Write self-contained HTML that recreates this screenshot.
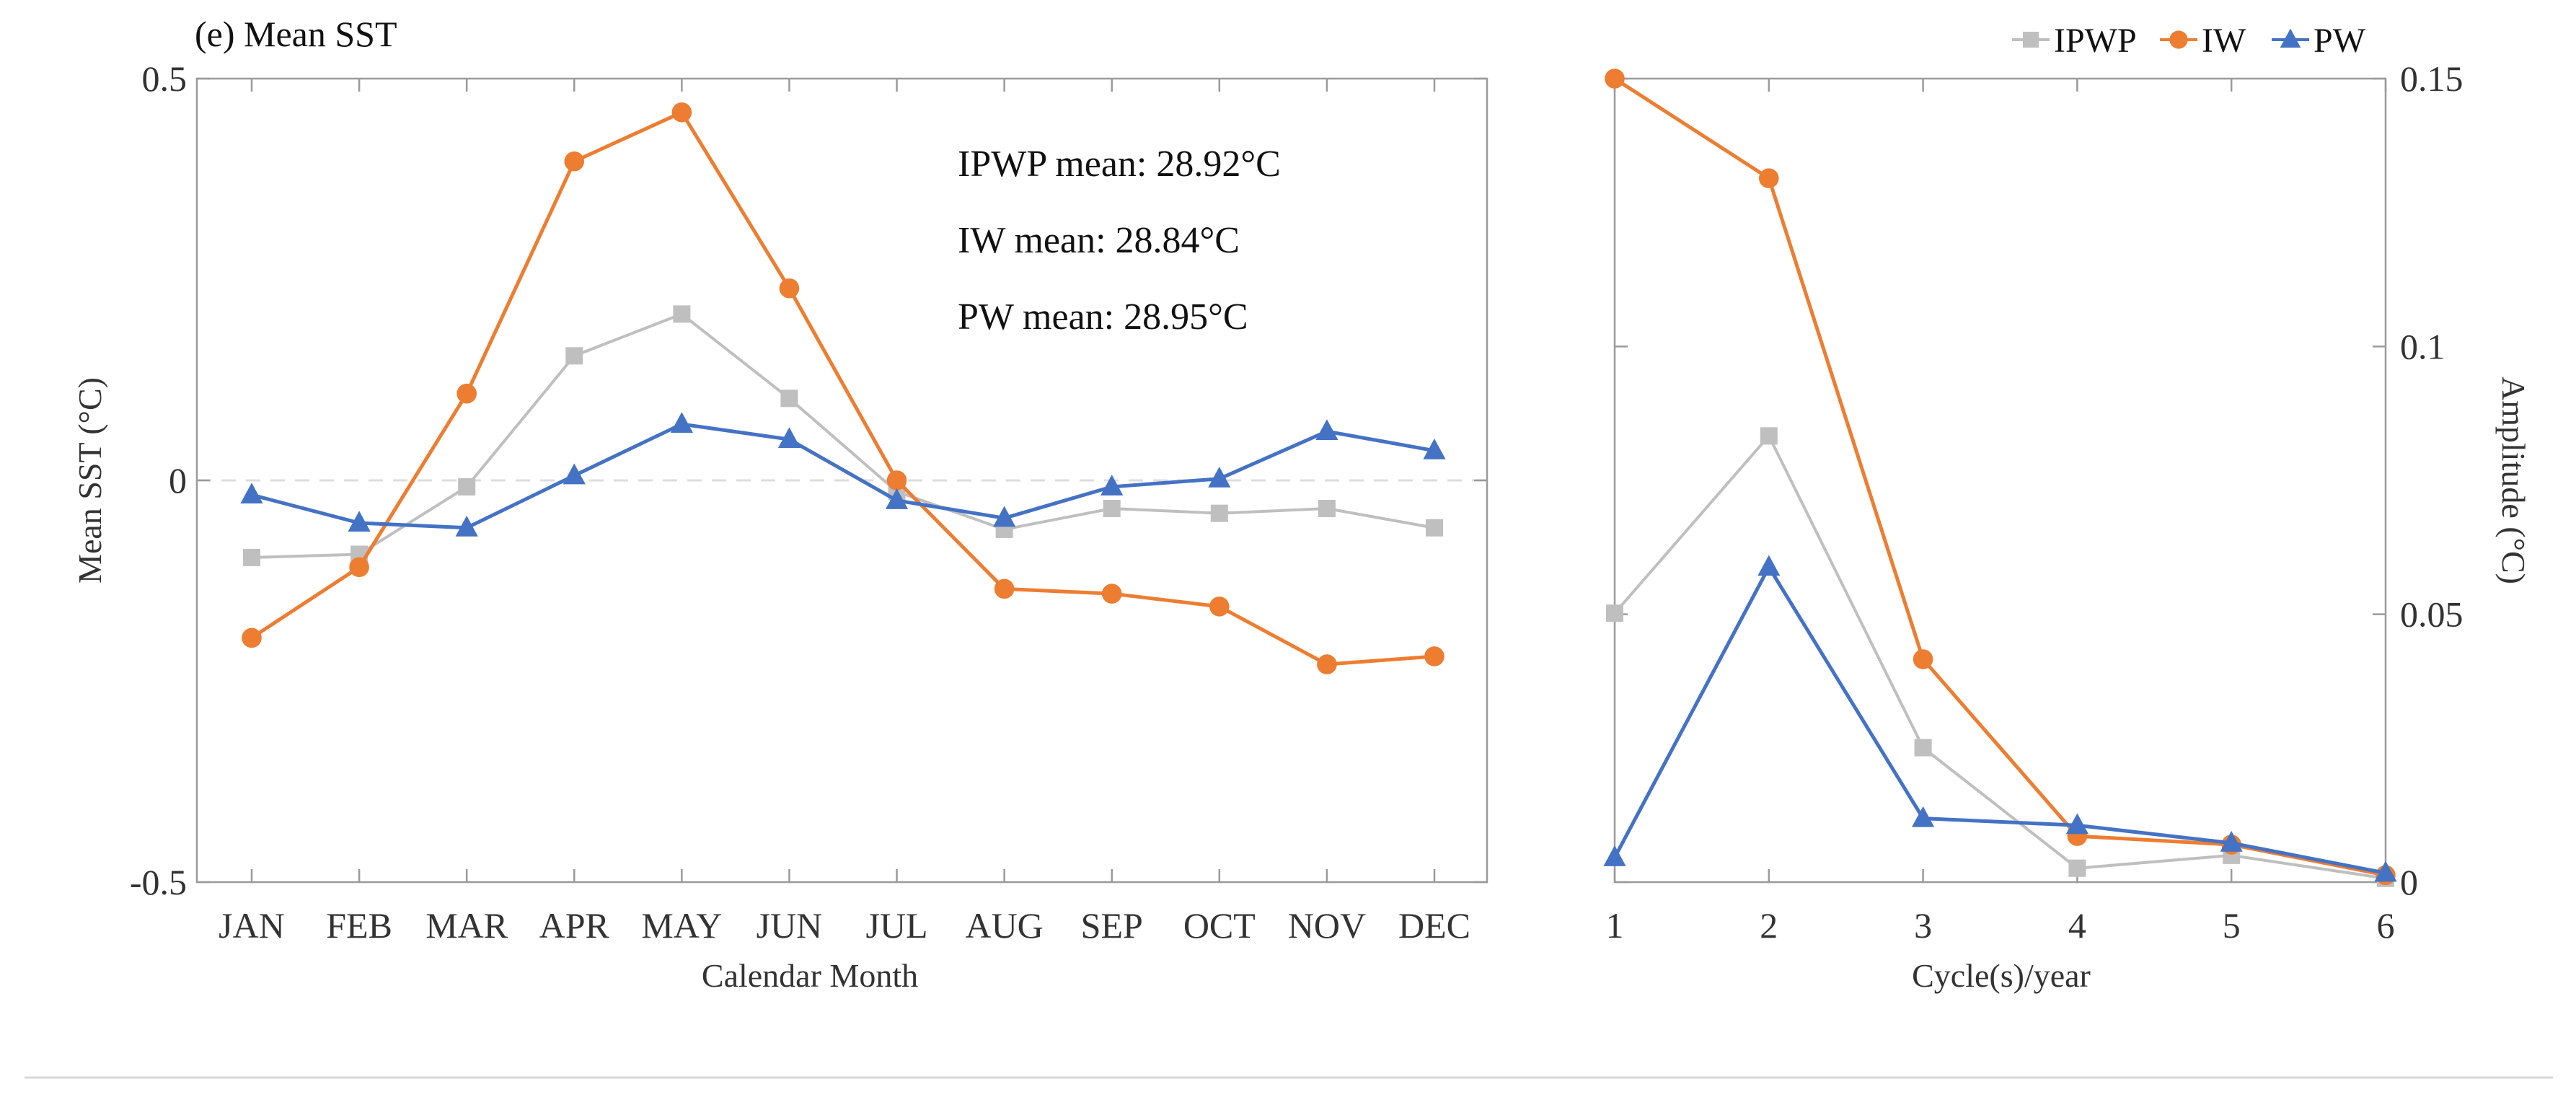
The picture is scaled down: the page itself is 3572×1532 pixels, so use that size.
<!DOCTYPE html>
<html><head><meta charset="utf-8"><style>
html,body{margin:0;padding:0;background:#fff}
svg{display:block;font-family:"Liberation Serif",serif}
</style></head><body>
<svg id="c" width="3572" height="1532" viewBox="0 0 3572 1532">
<text x="270" y="64" font-size="50" fill="#111">(e) Mean SST</text>
<line x1="34" y1="1494" x2="3540" y2="1494" stroke="#d8d8d8" stroke-width="3"/>
</svg>
<script>
const months=["JAN","FEB","MAR","APR","MAY","JUN","JUL","AUG","SEP","OCT","NOV","DEC"];
const ipwpMonthly=[-0.096,-0.092,-0.008,0.155,0.207,0.102,-0.014,-0.061,-0.035,-0.041,-0.035,-0.059];
const iwMonthly=[-0.196,-0.108,0.108,0.397,0.458,0.239,0.0,-0.135,-0.141,-0.157,-0.229,-0.219];
const pwMonthly=[-0.018,-0.053,-0.059,0.006,0.070,0.051,-0.025,-0.047,-0.008,0.002,0.061,0.037];
const leftTicks=[0.5,0,-0.5];
const leftTickLabels=["0.5","0","-0.5"];
const cycles=[1,2,3,4,5,6];
const ipwpAmp=[0.0502,0.0833,0.0251,0.0026,0.0050,0.0007];
const iwAmp=[0.150,0.1314,0.0416,0.0086,0.0070,0.0013];
const pwAmp=[0.0046,0.0588,0.0119,0.0106,0.0073,0.0017];
const rightTicks=[0,0.05,0.1,0.15];
const rightTickLabels=["0","0.05","0.1","0.15"];
const meanLabels=["IPWP mean: 28.92°C","IW mean: 28.84°C","PW mean: 28.95°C"];

const NS="http://www.w3.org/2000/svg";
const svg=document.getElementById('c');
function mk(tag,attrs,parent){const e=document.createElementNS(NS,tag);for(const k in attrs)e.setAttribute(k,attrs[k]);(parent||svg).appendChild(e);return e;}
const GRAY="#BFBFBF",OR="#ED7D31",BL="#4472C4",AX="#9a9a9a",TX="#333";
// left axes
const L={x0:273,x1:2062,y0:109,y1:1223};
const lx=i=>349+i*(1989-349)/11;
const ly=v=>L.y0+(0.5-v)*(L.y1-L.y0);
// right axes
const R={x0:2239,x1:3308,y0:109,y1:1223};
const rx=c=>R.x0+(c-1)*(R.x1-R.x0)/5;
const ry=v=>R.y1-v/0.15*(R.y1-R.y0);

let g=mk('g',{});


let e=mk('rect',{x:L.x0,y:L.y0,width:L.x1-L.x0,height:L.y1-L.y0,fill:'none',stroke:AX,'stroke-width':2.5},g);

e=mk('line',{x1:L.x0,x2:L.x1,y1:ly(0),y2:ly(0),stroke:'#dddddd','stroke-width':3,'stroke-dasharray':'20 14'},g);

months.forEach((m,i)=>{
  const x=lx(i);
  mk('line',{x1:x,x2:x,y1:L.y1,y2:L.y1-18,stroke:AX,'stroke-width':2.5},g);
  mk('line',{x1:x,x2:x,y1:L.y0,y2:L.y0+18,stroke:AX,'stroke-width':2.5},g);
  const t=mk('text',{x:x,y:1300,'font-size':50,'text-anchor':'middle',fill:TX},g);t.textContent=m;
  
});
leftTicks.forEach((v,i)=>{
  mk('line',{x1:L.x0,x2:L.x0+18,y1:ly(v),y2:ly(v),stroke:AX,'stroke-width':2.5},g);
  mk('line',{x1:L.x1,x2:L.x1-18,y1:ly(v),y2:ly(v),stroke:AX,'stroke-width':2.5},g);
  const t=mk('text',{x:L.x0-14,y:ly(v)+17,'font-size':50,'text-anchor':'end',fill:TX},g);t.textContent=leftTickLabels[i];
  
});
e=mk('text',{x:0,y:0,'font-size':46,'text-anchor':'middle',fill:TX,transform:`translate(140,${ly(0)}) rotate(-90)`},g);e.textContent="Mean SST (°C)";

e=mk('text',{x:1123,y:1368,'font-size':46,'text-anchor':'middle',fill:TX},g);e.textContent="Calendar Month";

meanLabels.forEach((s,i)=>{const t=mk('text',{x:1328,y:244+i*106,'font-size':52,fill:'#111'},g);t.textContent=s;
  });

function marker(type,x,y,col,par,s){
  let m;
  if(type==='sq')m=mk('rect',{x:x-s,y:y-s,width:2*s,height:2*s,fill:col},par);
  else if(type==='ci')m=mk('circle',{cx:x,cy:y,r:s*1.15,fill:col},par);
  else m=mk('polygon',{points:`${x},${y-s*1.4} ${x-s*1.3},${y+s} ${x+s*1.3},${y+s}`,fill:col},par);
  
}
function series(vals,xf,yf,col,type,name,par){
  const sg=mk('g',{},par);
  
  const pts=vals.map((v,i)=>xf(i)+','+yf(v)).join(' ');
  mk('polyline',{points:pts,fill:'none',stroke:col,'stroke-width':type==='sq'?4:5},sg);
  vals.forEach((v,i)=>marker(type,xf(i),yf(v),col,sg,12));
}
series(ipwpMonthly,lx,ly,GRAY,'sq','ipwp-monthly-line',g);
series(iwMonthly,lx,ly,OR,'ci','iw-monthly-line',g);
series(pwMonthly,lx,ly,BL,'tr','pw-monthly-line',g);

// right plot
let g2=mk('g',{});


e=mk('rect',{x:R.x0,y:R.y0,width:R.x1-R.x0,height:R.y1-R.y0,fill:'none',stroke:AX,'stroke-width':2.5},g2);

cycles.forEach((c,i)=>{
  const x=rx(c);
  mk('line',{x1:x,x2:x,y1:R.y1,y2:R.y1-18,stroke:AX,'stroke-width':2.5},g2);
  mk('line',{x1:x,x2:x,y1:R.y0,y2:R.y0+18,stroke:AX,'stroke-width':2.5},g2);
  const t=mk('text',{x:x,y:1300,'font-size':50,'text-anchor':'middle',fill:TX},g2);t.textContent=String(c);
  
});
rightTicks.forEach((v,i)=>{
  mk('line',{x1:R.x0,x2:R.x0+18,y1:ry(v),y2:ry(v),stroke:AX,'stroke-width':2.5},g2);
  mk('line',{x1:R.x1,x2:R.x1-18,y1:ry(v),y2:ry(v),stroke:AX,'stroke-width':2.5},g2);
  const t=mk('text',{x:R.x1+20,y:ry(v)+17,'font-size':50,fill:TX},g2);t.textContent=rightTickLabels[i];
  
});
e=mk('text',{x:0,y:0,'font-size':46,'text-anchor':'middle',fill:TX,transform:`translate(3470,${ly(0)}) rotate(90)`},g2);e.textContent="Amplitude (°C)";

e=mk('text',{x:2775,y:1368,'font-size':46,'text-anchor':'middle',fill:TX},g2);e.textContent="Cycle(s)/year";

const cx=i=>rx(cycles[i]);
series(ipwpAmp,cx,ry,GRAY,'sq','ipwp-amplitude-line',g2);
series(iwAmp,cx,ry,OR,'ci','iw-amplitude-line',g2);
series(pwAmp,cx,ry,BL,'tr','pw-amplitude-line',g2);

// legend
const lg=mk('g',{});

[["IPWP",GRAY,'sq',2790],["IW",OR,'ci',2995],["PW",BL,'tr',3150]].forEach(([n,c,t,x])=>{
  const eg=mk('g',{},lg);
  
  mk('line',{x1:x,x2:x+52,y1:55,y2:55,stroke:c,'stroke-width':4},eg);
  marker(t,x+26,55,c,eg,11);
  const tx=mk('text',{x:x+58,y:72,'font-size':48,fill:'#111'},eg);tx.textContent=n;
});
</script>
</body></html>
